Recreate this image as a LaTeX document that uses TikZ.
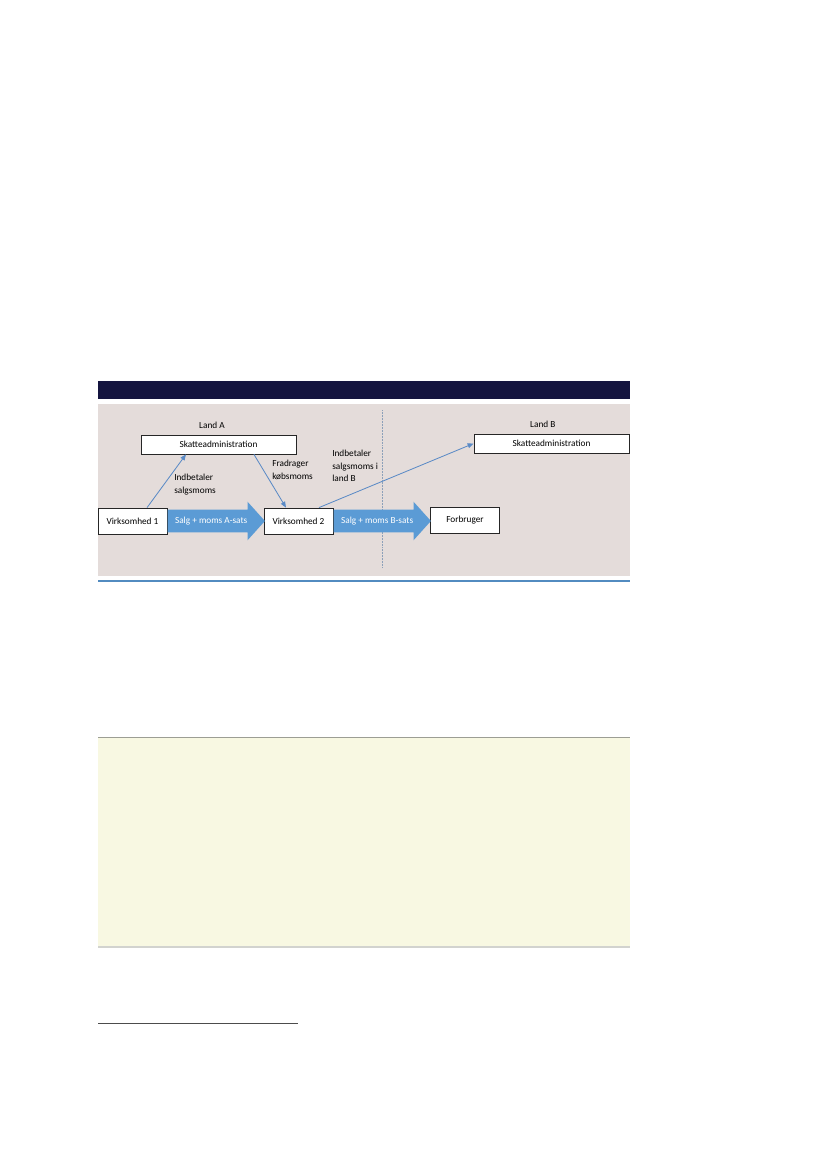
\documentclass[tikz,border=0pt]{standalone}
\usepackage{fontspec}
\setmainfont{Carlito}
\usepackage{tikz}
\usetikzlibrary{shapes, arrows.meta, positioning}
\definecolor{navy}{HTML}{15153F}
\definecolor{panelgrey}{HTML}{E4DCDA}
\definecolor{flowblue}{HTML}{5B9BD5}
\definecolor{thinblue}{HTML}{5A8AC6}
\definecolor{rulegrey}{HTML}{9C9E94}
\definecolor{boxyellow}{HTML}{F8F8E2}
\tikzstyle{firm} = [rectangle, draw=black!85, line width=0.6pt, fill=white,
  minimum width=17.5mm, minimum height=6.6mm, inner sep=0pt,
  font=\fontsize{6.7}{9}\selectfont]
\tikzstyle{tax} = [firm, minimum width=39.4mm, minimum height=4.8mm]
\tikzstyle{flow} = [single arrow, fill=flowblue, draw=none, text=white,
  single arrow head extend=2.03mm, single arrow tip angle=96,
  single arrow head indent=0pt, minimum height=24.7mm,
  text height=1.6mm, text depth=0.5mm, inner ysep=1.75mm, inner xsep=0pt,
  font=\fontsize{6.7}{9}\selectfont]
\tikzstyle{pay} = [draw=thinblue, line width=0.6pt, -{Triangle[length=1.5mm,width=1.2mm]}]
\tikzstyle{note} = [align=left, inner sep=0pt, anchor=north west,
  font=\fontsize{6.7}{9}\selectfont]
\tikzstyle{land} = [inner sep=0pt, font=\fontsize{6.7}{9}\selectfont]

\begin{document}
\begin{tikzpicture}[x=0.254mm, y=-0.254mm]

      \useasboundingbox (0,0) rectangle (827,1169);

      %
      % Frame
      %

      \fill [navy] (98,381) rectangle (630,399);
      \fill [panelgrey] (98,404) rectangle (630,576);
      \draw [flowblue!90!black, line width=0.9pt] (98,581) -- (630,581);

      \coordinate (borderTop) at (382,410);
      \coordinate (borderBot) at (382,568);
      \draw [draw=black!30!thinblue!60, line width=0.45pt,
        dash pattern=on 0.5pt off 0.6pt] (borderTop) -- (borderBot);

      %
      % Land A
      %

      \node [tax] (SkA) at (218.5,444.5) {Skatteadministration};
      \node [land, above=1.45mm of SkA, xshift=-1.65mm] (landA) {Land A};
      \node [firm] (V1) at (132.5,521) {Virksomhed 1};
      \node [firm] (V2) at (298.5,521) {Virksomhed 2};
      \node [flow, anchor=tail] (salgA) at (V1.east) {Salg + moms A-sats};

      %
      % Land B
      %

      \node [tax] (SkB) at (551.5,443.5) {Skatteadministration};
      \node [land, above=1.45mm of SkB, xshift=-2.2mm] (landB) {Land B};
      \node [firm] (forb) at (465,520) {Forbruger};
      \node [flow, anchor=tail] (salgB) at (V2.east) {Salg + moms B-sats};

      %
      % Payments
      %

      \path [pay] ([xshift=3.7mm]V1.north) -- ([xshift=-8.26mm]SkA.south);
      \path [pay] ([xshift=9.0mm]SkA.south) -- ([xshift=-3.18mm]V2.north);
      \path [pay] ([xshift=5.2mm]V2.north) -- (SkB.west);

      \node [note] (payA) at (174,474) {Indbetaler\\salgsmoms};
      \node [note] (deduct) at (272,460) {Fradrager\\købsmoms};
      \node [note] (payB) at (332,450) {Indbetaler\\salgsmoms i\\land B};

      %
      % Box and footnote rule
      %

      \fill [boxyellow] (98,737) rectangle (630,947);
      \draw [rulegrey, line width=0.6pt] (98,737) -- (630,737);
      \draw [rulegrey!45, line width=0.9pt] (98,947) -- (630,947);
      \draw [black!70, line width=0.6pt] (98,1023) -- (298,1023);

    \end{tikzpicture}
\end{document}
